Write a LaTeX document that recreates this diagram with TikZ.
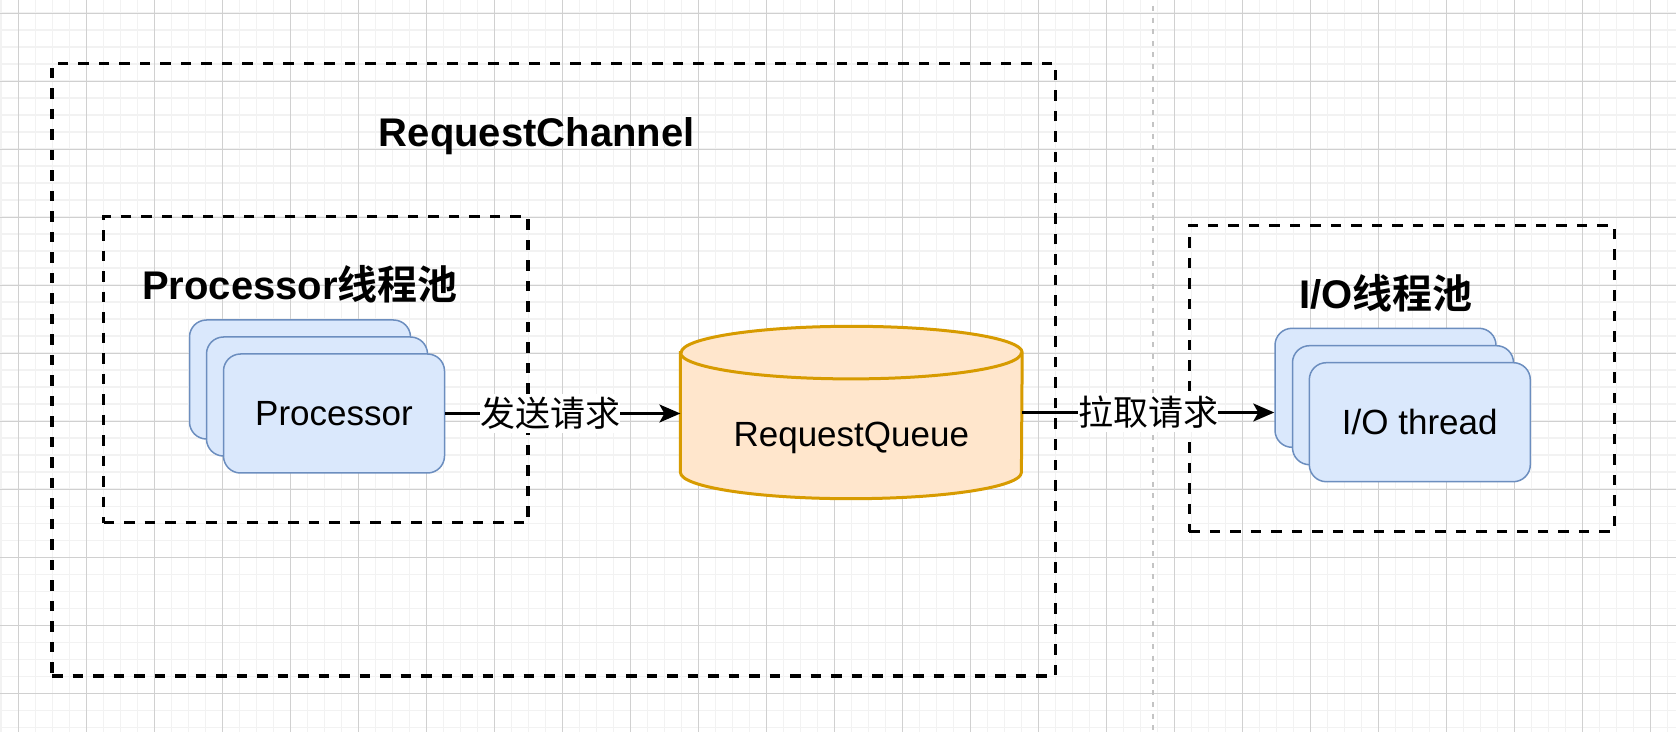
\documentclass[tikz,border=0pt]{standalone}
\usepackage{fontspec}
\setmainfont{Liberation Sans}
\newfontfamily\cjk{Noto Sans CJK SC}[BoldFont={Noto Sans CJK SC Bold}]
\usetikzlibrary{arrows.meta}
\definecolor{gridmajor}{HTML}{D0D0D0}
\definecolor{gridminor}{HTML}{F2F2F2}
\definecolor{blueFill}{HTML}{DAE8FC}
\definecolor{blueLine}{HTML}{6C8EBF}
\definecolor{orangeFill}{HTML}{FFE6CC}
\definecolor{orangeLine}{HTML}{D79B00}
\definecolor{pagebreak}{HTML}{C4C4C4}
\begin{document}
\begin{tikzpicture}[x=0.5pt,y=-0.5pt,
  minorline/.style={draw=gridminor,line width=0.8pt},
  majorline/.style={draw=gridmajor,line width=0.5pt},
  pageline/.style={draw=pagebreak,line width=0.75pt,dash pattern=on 2.5pt off 3.3pt},
  groupbox/.style={draw=black,line width=1.6pt,dash pattern=on 5.25pt off 5pt,inner sep=0pt},
  card/.style={draw=blueLine,fill=blueFill,line width=0.75pt,rounded corners=8.5pt,
    minimum width=110.5pt,minimum height=59.5pt,inner sep=0pt,
    font=\fontsize{17.5pt}{21pt}\selectfont},
  heading/.style={font=\fontsize{20pt}{24pt}\selectfont\bfseries,inner sep=0pt,anchor=base},
  plain/.style={font=\fontsize{17.5pt}{21pt}\selectfont,inner sep=0pt,anchor=base},
  cylbody/.style={draw=orangeLine,fill=orangeFill,line width=1.5pt},
  cylline/.style={draw=orangeLine,line width=1.5pt},
  conn/.style={draw=black,line width=1.2pt,-{Stealth[length=10.5pt,width=9pt,inset=2.5pt]}},
  lbl/.style={fill=white,inner xsep=0pt,inner ysep=1.5pt,text=black,
    font=\fontsize{17.5pt}{21pt}\selectfont\cjk}]
% background and grid
\fill[white] (0,0) rectangle (1676,732);
\useasboundingbox (0,0) rectangle (1676,732);
\foreach \i in {-1,...,98} { \draw[minorline] ({18.3+17*\i},0) -- ({18.3+17*\i},732); }
\foreach \i in {0,...,42} { \draw[minorline] (0,{13.3+17*\i}) -- (1676,{13.3+17*\i}); }
\foreach \i in {0,...,24} { \draw[majorline] ({18.3+68*\i},0) -- ({18.3+68*\i},732); }
\foreach \i in {0,...,10} { \draw[majorline] (0,{13.3+68*\i}) -- (1676,{13.3+68*\i}); }
\draw[pageline] (1153,6) -- (1153,732);
% containers
\node[groupbox,minimum width=501.75pt,minimum height=306.25pt] (chan) at (553.75,369.75) {};
\node[groupbox,minimum width=212.25pt,minimum height=153pt] (ppool) at (315.75,369.7) {};
\node[groupbox,minimum width=212.5pt,minimum height=153.2pt] (iopool) at (1401.8,378.5) {};
% titles
\node[heading] (tchan) at (536.7,146.7) {RequestChannel};
\node[heading] (tproc) at (300,300) {Processor{\cjk 线程池}};
\node[heading] (tio) at (1386.3,308.3) {I/O{\cjk 线程池}};
% processor stack
\node[card] (pback) at (300,379.5) {};
\node[card] (pmid) at (317,396.5) {};
\node[card] (pfront) at (334,413.5) {Processor};
% io stack
\node[card] (ioback) at (1385.5,387.8) {};
\node[card] (iomid) at (1403,405.2) {};
\node[card] (iofront) at (1419.8,422.2) {I/O thread};
% queue cylinder
\node[minimum width=170.5pt,minimum height=85.8pt,inner sep=0pt] (queue) at (851.3,412.5) {};
\path[cylbody] ([yshift=-13.15pt]queue.north west) -- ([yshift=13.15pt]queue.south west)
  arc[start angle=180,end angle=360,x radius=85.25pt,y radius=13.15pt]
  -- ([yshift=-13.15pt]queue.north east)
  arc[start angle=0,end angle=180,x radius=85.25pt,y radius=13.15pt] -- cycle;
\draw[cylline] ([yshift=-13.15pt]queue.north west)
  arc[start angle=180,end angle=360,x radius=85.25pt,y radius=13.15pt];
\node[plain] (qtext) at (851.3,446.7) {RequestQueue};
% connectors
\draw[conn] (pfront.east) -- node[lbl,pos=0.446] (l1) {发送请求} (pfront.east -| queue.west);
\draw[conn] (queue.east) -- node[lbl,pos=0.5] (l2) {拉取请求} (queue.east -| ioback.west);
\end{tikzpicture}
\end{document}
